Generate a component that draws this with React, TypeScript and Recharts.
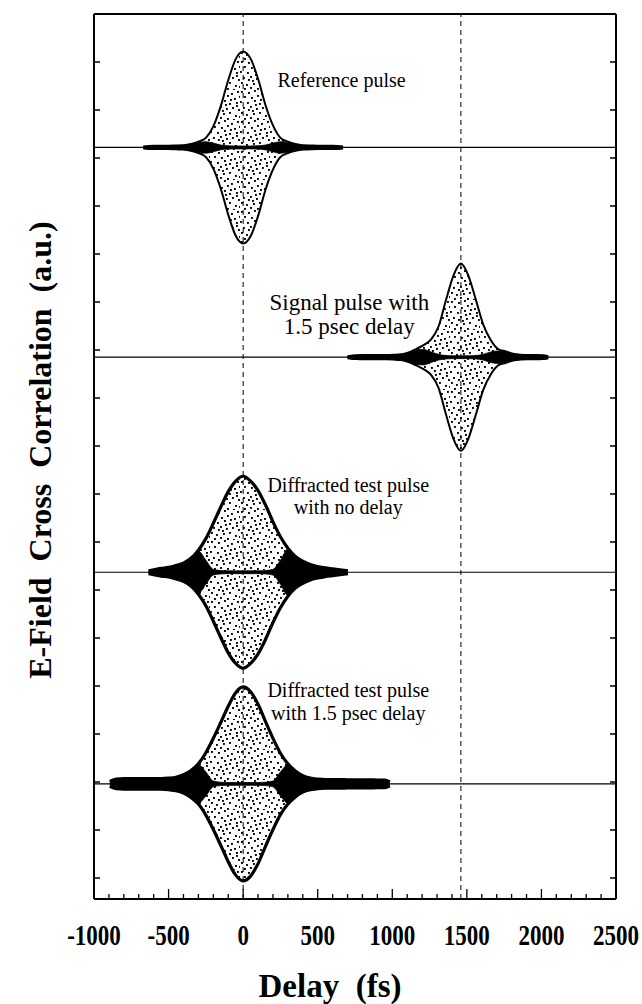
import { ComposedChart, Area, XAxis, YAxis, ReferenceLine, ReferenceDot } from "recharts";

// Axis ticks (fs on x, arbitrary units on y)
const X_TICKS = [-1000, -900, -800, -700, -600, -500, -400, -300, -200, -100, 0, 100, 200, 300, 400, 500, 600, 700, 800, 900, 1000, 1100, 1200, 1300, 1400, 1500, 1600, 1700, 1800, 1900, 2000, 2100, 2200, 2300, 2400, 2500];
const X_LABELS = [-1000, -500, 0, 500, 1000, 1500, 2000, 2500];
const Y_TICKS = [0, 1, 2, 3, 4, 5, 6, 7, 8, 9, 10, 11, 12, 13, 14, 15, 16, 17];

// vertical dashed guides and pulse baselines
const DASH_X = [0, 1460];
const BASELINES = [15.22, 10.85, 6.37, 1.96];

// Reference pulse: envelope half-height and dense-core half-height vs delay offset
const REF_CENTER = 0;
const refOffsets = [-670, -600, -550, -500, -450, -400, -350, -300, -250, -200, -150, -100, -50, 0, 50, 100, 150, 200, 250, 300, 350, 400, 450, 500, 550, 600, 670];
const refEnv = [0.02, 0.035, 0.035, 0.035, 0.04, 0.045, 0.07, 0.12, 0.2, 0.44, 0.86, 1.4, 1.84, 2.0, 1.85, 1.43, 0.88, 0.46, 0.2, 0.12, 0.07, 0.045, 0.04, 0.035, 0.035, 0.035, 0.02];
const refCore = [0.02, 0.035, 0.035, 0.035, 0.04, 0.045, 0.07, 0.1, 0.12, 0.09, 0.05, 0.035, 0.03, 0.03, 0.03, 0.035, 0.05, 0.09, 0.12, 0.1, 0.07, 0.045, 0.04, 0.035, 0.035, 0.035, 0.02];

// Signal pulse, 1.5 ps delay
const SIG_CENTER = 1460;
const sigOffsets = [-760, -700, -650, -600, -550, -500, -450, -400, -350, -300, -250, -200, -150, -100, -50, 0, 50, 100, 150, 200, 250, 300, 350, 400, 450, 500, 550, 586];
const sigEnv = [0.02, 0.04, 0.045, 0.045, 0.045, 0.045, 0.05, 0.06, 0.1, 0.17, 0.25, 0.37, 0.64, 1.19, 1.7, 1.95, 1.7, 1.2, 0.68, 0.36, 0.17, 0.12, 0.07, 0.05, 0.045, 0.045, 0.04, 0.02];
const sigCore = [0.02, 0.04, 0.045, 0.045, 0.045, 0.045, 0.05, 0.06, 0.1, 0.15, 0.16, 0.11, 0.06, 0.035, 0.03, 0.03, 0.03, 0.035, 0.06, 0.11, 0.13, 0.11, 0.07, 0.05, 0.045, 0.045, 0.04, 0.02];

// Diffracted test pulse, no delay
const D0_CENTER = 0;
const d0Offsets = [-634, -600, -550, -500, -450, -400, -350, -300, -250, -200, -150, -100, -50, 0, 50, 100, 150, 200, 250, 300, 350, 400, 450, 500, 550, 600, 650, 703];
const d0Env = [0.03, 0.05, 0.08, 0.1, 0.14, 0.19, 0.29, 0.46, 0.7, 1.02, 1.36, 1.68, 1.9, 2.0, 1.9, 1.7, 1.4, 1.05, 0.74, 0.5, 0.33, 0.23, 0.16, 0.12, 0.09, 0.07, 0.05, 0.03];
const d0Core = [0.03, 0.05, 0.08, 0.1, 0.14, 0.19, 0.29, 0.44, 0.25, 0.06, 0.035, 0.03, 0.03, 0.03, 0.03, 0.03, 0.035, 0.06, 0.25, 0.48, 0.33, 0.23, 0.16, 0.12, 0.09, 0.07, 0.05, 0.03];

// Diffracted test pulse with 1.5 ps delay
const D1_CENTER = 0;
const d1Offsets = [-894, -850, -800, -750, -700, -650, -600, -550, -500, -450, -400, -350, -300, -250, -200, -150, -100, -50, 0, 50, 100, 150, 200, 250, 300, 350, 400, 450, 500, 550, 600, 650, 700, 750, 800, 850, 900, 950, 983];
const d1Env = [0.05, 0.1, 0.11, 0.11, 0.11, 0.11, 0.11, 0.11, 0.12, 0.14, 0.19, 0.28, 0.42, 0.65, 0.95, 1.28, 1.62, 1.9, 2.02, 1.92, 1.66, 1.3, 0.95, 0.64, 0.42, 0.27, 0.17, 0.12, 0.1, 0.09, 0.09, 0.09, 0.085, 0.085, 0.085, 0.085, 0.08, 0.08, 0.04];
const d1Core = [0.05, 0.1, 0.11, 0.11, 0.11, 0.11, 0.11, 0.11, 0.12, 0.14, 0.19, 0.28, 0.4, 0.25, 0.06, 0.035, 0.03, 0.03, 0.03, 0.03, 0.03, 0.035, 0.06, 0.25, 0.4, 0.27, 0.17, 0.12, 0.1, 0.09, 0.09, 0.09, 0.085, 0.085, 0.085, 0.085, 0.08, 0.08, 0.04];

// annotations (anchored in data coordinates)
const NOTE_TEXT = ["Reference pulse", "Signal pulse with", "1.5 psec delay", "Diffracted test pulse", "with no delay", "Diffracted test pulse", "with 1.5 psec delay"];
const NOTE_X = [660, 712, 712, 705, 705, 705, 705];
const NOTE_Y = [16.48, 11.84, 11.34, 8.04, 7.58, 3.77, 3.29];
const NOTE_SIZE = [20, 23, 23, 20, 20, 20, 20];

// speckle pattern used to fill the sampled-field region (style only)
const SPECKLE = [
  [1, 1], [8, 2], [14, 0], [21, 3], [27, 1],
  [4, 6], [11, 7], [17, 5], [24, 8], [29, 6],
  [0, 11], [7, 12], [14, 10], [19, 13], [26, 12],
  [3, 17], [10, 16], [16, 18], [22, 17], [28, 19],
  [1, 22], [6, 24], [13, 23], [19, 22], [25, 25],
  [4, 28], [10, 27], [17, 28], [23, 29], [29, 26],
  [12, 20], [20, 9], [8, 19], [26, 15], [15, 14],
];
const ENV_STROKE = [2, 2, 3.2, 3.2];

const SERIF = '"Liberation Serif", "Times New Roman", serif';

function buildPulse(center: number, base: number, offsets: number[], env: number[], core: number[]) {
  return offsets.map((o, i) => ({
    x: center + o,
    env: [base - env[i], base + env[i]],
    core: [base - core[i], base + core[i]],
  }));
}

const PULSES = [
  buildPulse(REF_CENTER, BASELINES[0], refOffsets, refEnv, refCore),
  buildPulse(SIG_CENTER, BASELINES[1], sigOffsets, sigEnv, sigCore),
  buildPulse(D0_CENTER, BASELINES[2], d0Offsets, d0Env, d0Core),
  buildPulse(D1_CENTER, BASELINES[3], d1Offsets, d1Env, d1Core),
];

const BottomTick = ({ x, y, payload }: any) => {
  const major = X_LABELS.includes(payload.value);
  return (
    <g>
      <line x1={x} x2={x} y1={y} y2={y - (major ? 10 : 5)} stroke="#000" strokeWidth={1.3} />
      {major && (
        <text
          transform={`translate(${x},${y + 46}) scale(1,1.28)`}
          textAnchor="middle"
          fontFamily={SERIF}
          fontWeight="bold"
          fontSize={23}
          fill="#000"
        >
          {payload.value}
        </text>
      )}
    </g>
  );
};

const TopTick = ({ x, y, payload }: any) => {
  const major = X_LABELS.includes(payload.value);
  return <line x1={x} x2={x} y1={y} y2={y + (major ? 10 : 5)} stroke="#000" strokeWidth={1.3} />;
};

const LeftTick = ({ x, y }: any) => <line x1={x} x2={x + 6} y1={y} y2={y} stroke="#000" strokeWidth={1.5} />;
const RightTick = ({ x, y }: any) => <line x1={x} x2={x - 6} y1={y} y2={y} stroke="#000" strokeWidth={1.5} />;

export default function App() {
  const frame = { stroke: "#000", strokeWidth: 2 };
  // pinned to the page corner so the full 642x1004 canvas is usable without scrolling
  return (
    <div style={{ position: "absolute", left: 0, top: 0, width: 642, height: 1004, background: "#fff" }}>
      <ComposedChart width={642} height={1004} margin={{ top: 13, right: 25, bottom: 0, left: 8 }}>
        <defs>
          <pattern id="speckle" width={30} height={30} patternUnits="userSpaceOnUse">
            {SPECKLE.map(([px, py], i) => (
              <rect key={i} x={px} y={py} width={1.9} height={1.9} fill="#000" />
            ))}
          </pattern>
        </defs>
        <XAxis
          xAxisId="b"
          type="number"
          dataKey="x"
          domain={[-1000, 2500]}
          ticks={X_TICKS}
          interval={0}
          tickSize={0}
          tickMargin={0}
          tickLine={false}
          tick={(p: any) => <BottomTick {...p} />}
          axisLine={frame}
          height={105}
          allowDataOverflow
          label={() => (
            <text x={330} y={997} textAnchor="middle" fontFamily={SERIF} fontWeight="bold" fontSize={33} fill="#000" style={{ whiteSpace: "pre" }}>
              {"Delay  (fs)"}
            </text>
          )}
        />
        <XAxis
          xAxisId="t"
          orientation="top"
          type="number"
          domain={[-1000, 2500]}
          ticks={X_TICKS}
          interval={0}
          tickSize={0}
          tickMargin={0}
          tickLine={false}
          tick={(p: any) => <TopTick {...p} />}
          axisLine={frame}
          height={1}
          allowDataOverflow
        />
        <YAxis
          yAxisId="l"
          type="number"
          domain={[-0.4375, 18]}
          ticks={Y_TICKS}
          interval={0}
          tickSize={0}
          tickMargin={0}
          tickLine={false}
          tick={(p: any) => <LeftTick {...p} />}
          axisLine={frame}
          width={86}
          allowDataOverflow
          label={() => (
            <text
              x={51}
              y={450}
              transform="rotate(-90, 51, 450)"
              textAnchor="middle"
              fontFamily={SERIF}
              fontWeight="bold"
              fontSize={32}
              fill="#000"
              style={{ whiteSpace: "pre" }}
            >
              {"E-Field  Cross  Correlation  (a.u.)"}
            </text>
          )}
        />
        <YAxis
          yAxisId="r"
          orientation="right"
          type="number"
          domain={[-0.4375, 18]}
          ticks={Y_TICKS}
          interval={0}
          tickSize={0}
          tickMargin={0}
          tickLine={false}
          tick={(p: any) => <RightTick {...p} />}
          axisLine={frame}
          width={1}
          allowDataOverflow
        />

        {DASH_X.map((v) => (
          <ReferenceLine key={`dx${v}`} xAxisId="b" yAxisId="l" x={v} stroke="#000" strokeWidth={1} strokeDasharray="5 4" />
        ))}
        {BASELINES.map((v) => (
          <ReferenceLine key={`b${v}`} xAxisId="b" yAxisId="l" y={v} stroke="#000" strokeWidth={1.2} />
        ))}

        {PULSES.map((data, i) => (
          <Area
            key={`env${i}`}
            xAxisId="b"
            yAxisId="l"
            data={data}
            dataKey="env"
            type="monotone"
            fill="url(#speckle)"
            fillOpacity={1}
            stroke="#000"
            strokeWidth={ENV_STROKE[i]}
            dot={false}
            activeDot={false}
            isAnimationActive={false}
          />
        ))}
        {PULSES.map((data, i) => (
          <Area
            key={`core${i}`}
            xAxisId="b"
            yAxisId="l"
            data={data}
            dataKey="core"
            type="monotone"
            fill="#000"
            fillOpacity={1}
            stroke="#000"
            strokeWidth={0.8}
            dot={false}
            activeDot={false}
            isAnimationActive={false}
          />
        ))}

        {NOTE_TEXT.map((t, i) => (
          <ReferenceDot
            key={`n${i}`}
            xAxisId="b"
            yAxisId="l"
            x={NOTE_X[i]}
            y={NOTE_Y[i]}
            r={0}
            shape={(p: any) => (
              <text x={p.cx} y={p.cy} textAnchor="middle" fontFamily={SERIF} fontSize={NOTE_SIZE[i]} fill="#000">
                {t}
              </text>
            )}
          />
        ))}
      </ComposedChart>
    </div>
  );
}
